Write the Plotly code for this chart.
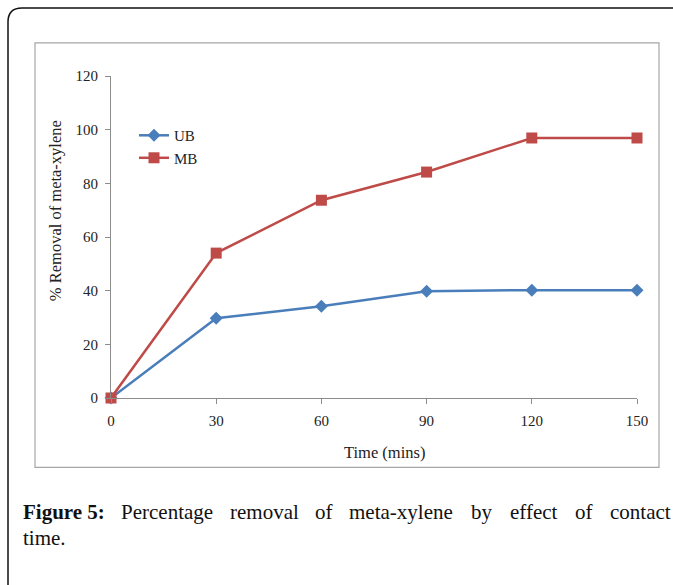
import plotly.graph_objects as go

time_mins = [0, 30, 60, 90, 120, 150]
ub_removal = [0, 29.7, 34.2, 39.8, 40.2, 40.2]
mb_removal = [0, 54.0, 73.7, 84.2, 96.9, 96.9]
x_ticks = [0, 30, 60, 90, 120, 150]
y_ticks = [0, 20, 40, 60, 80, 100, 120]

caption_words = ["Percentage", "removal", "of", "meta-xylene", "by", "effect", "of"]
caption_word_cx = [166.5, 264, 323.5, 401, 481.5, 534, 584]
caption_last = "contact"

W, H = 673, 585
L, R = 111, 637
T, B = 76, 397.7

def px(x):
    return (x - L) / (R - L)

def py(y):
    return (B - y) / (B - T)

fig = go.Figure()
fig.add_trace(go.Scatter(
    x=time_mins, y=ub_removal, name="UB", mode="lines+markers",
    line=dict(color="#4a7ebb", width=2.5),
    marker=dict(symbol="diamond", size=10, color="#4a7ebb"),
    cliponaxis=False))
fig.add_trace(go.Scatter(
    x=time_mins, y=mb_removal, name="MB", mode="lines+markers",
    line=dict(color="#be4b48", width=2.5),
    marker=dict(symbol="square", size=11, color="#be4b48"),
    cliponaxis=False))

font_serif = "Liberation Serif, Times New Roman, serif"

fig.update_layout(
    width=W, height=H,
    margin=dict(l=L, r=W - R, t=T, b=H - B),
    paper_bgcolor="white", plot_bgcolor="white",
    font=dict(family=font_serif, size=15, color="#222"),
    showlegend=True,
    legend=dict(x=px(134), y=py(119), xanchor="left", yanchor="top",
                bgcolor="rgba(0,0,0,0)", font=dict(size=15, color="#222"),
                tracegroupgap=0),
    xaxis=dict(range=[0, 150], tickvals=x_ticks, showgrid=False, zeroline=False,
               showline=True, linecolor="#8c8c8c", linewidth=1,
               ticks="outside", ticklen=5, tickcolor="#8c8c8c",
               ticklabelstandoff=4,
               tickfont=dict(size=15, color="#222"), fixedrange=True),
    yaxis=dict(range=[0, 120], tickvals=y_ticks, showgrid=False, zeroline=False,
               showline=True, linecolor="#8c8c8c", linewidth=1,
               ticks="outside", ticklen=5, tickcolor="#8c8c8c",
               ticklabelstandoff=4,
               tickfont=dict(size=15, color="#222"), fixedrange=True),
)

# axis titles
fig.add_annotation(text="Time (mins)", xref="paper", yref="paper",
                   x=px(384), y=py(452), xanchor="center", yanchor="middle",
                   showarrow=False,
                   font=dict(size=16.5, color="#222", family=font_serif))
fig.add_annotation(text="% Removal of meta-xylene", xref="paper", yref="paper",
                   x=px(55), y=py(211), xanchor="center", yanchor="middle",
                   showarrow=False, textangle=-90,
                   font=dict(size=16.5, color="#222", family=font_serif))

# inner chart frame
fig.add_shape(type="rect", xref="paper", yref="paper",
              x0=px(35), x1=px(659), y0=py(43), y1=py(467),
              line=dict(color="#a6a6a6", width=1.2), layer="below")

# outer rounded frame (top-left corner)
path = (f"M {px(8)},{py(600)} L {px(8)},{py(22)} "
        f"Q {px(8)},{py(8)} {px(22)},{py(8)} L {px(700)},{py(8)}")
fig.add_shape(type="path", xref="paper", yref="paper", path=path,
              line=dict(color="#111", width=1.5))

# caption (justified: one annotation per word)
cap_font = "Liberation Serif, serif"
cap = dict(size=21, color="#111", family=cap_font)
fig.add_annotation(text="<b>Figure 5:</b>", xref="paper", yref="paper",
                   x=px(21), y=py(512), xanchor="left", yanchor="middle",
                   showarrow=False, font=cap)
for wtxt, wx in zip(caption_words, caption_word_cx):
    fig.add_annotation(text=wtxt, xref="paper", yref="paper",
                       x=px(wx), y=py(512), xanchor="center", yanchor="middle",
                       showarrow=False, font=cap)
fig.add_annotation(text=caption_last, xref="paper", yref="paper",
                   x=px(673), y=py(512), xanchor="right", yanchor="middle",
                   showarrow=False, font=cap)
fig.add_annotation(text="time.", xref="paper", yref="paper",
                   x=px(21), y=py(538), xanchor="left", yanchor="middle",
                   showarrow=False, font=cap)

fig.write_html("out.html")
